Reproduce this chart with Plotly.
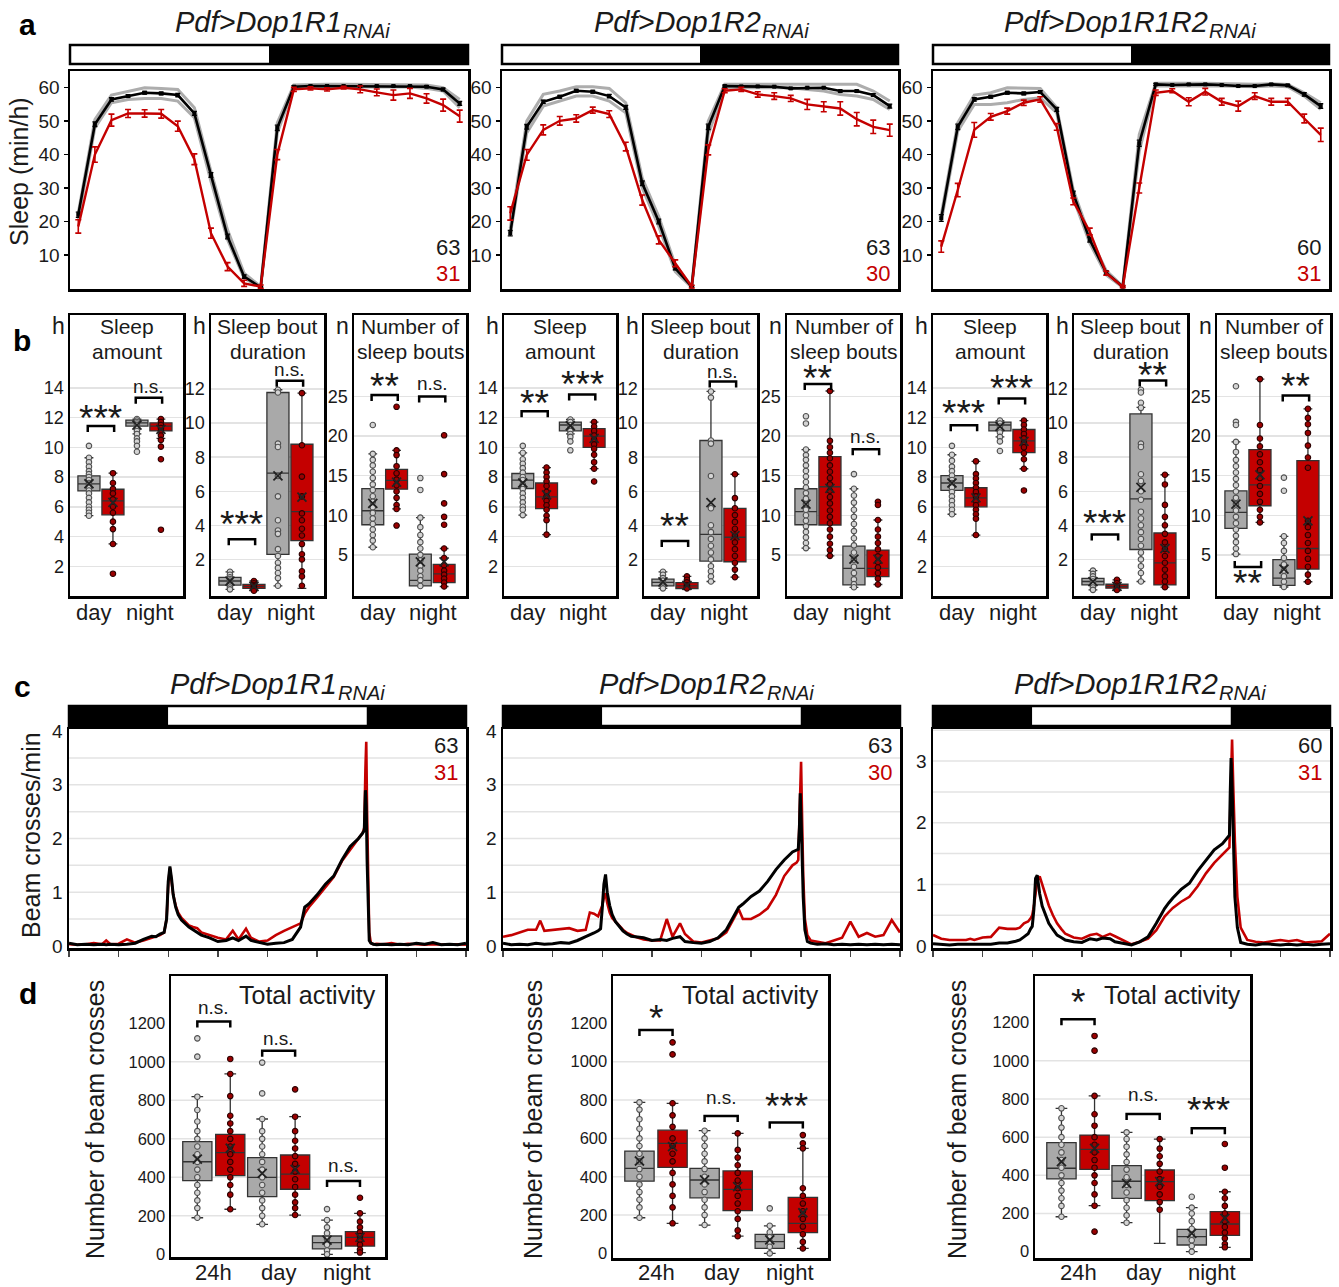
import plotly.graph_objects as go

W, H = 1339, 1287
FONT = "Liberation Sans, Arial, sans-serif"
RED = "#c40000"
GFILL = "#a9a9a9"
GRID = "#e3e3e3"
TXT = "#1a1a1a"

# ---------------- DATA: row a (sleep profiles, min/h per hour bin) ----------------
HOUR_BINS = [0.5, 1.5, 2.5, 3.5, 4.5, 5.5, 6.5, 7.5, 8.5, 9.5, 10.5, 11.5,
             12.5, 13.5, 14.5, 15.5, 16.5, 17.5, 18.5, 19.5, 20.5, 21.5, 22.5, 23.5]
GENOTYPES = ["Dop1R1", "Dop1R2", "Dop1R1R2"]
N_CTRL = ["63", "63", "60"]
N_RNAI = ["31", "30", "31"]

A1_CTRL = [22, 49.1, 56.5, 57.5, 58.5, 58.3, 57.8, 52.3, 33.9, 15.5, 3.5, 0.3,
           48, 60.3, 60.5, 60.5, 60.5, 60.5, 60.5, 60.5, 60.5, 60.3, 59.5, 55.3]
A1_CTRL_SEM = [0.8, 0.7, 0.5, 0.4, 0.4, 0.4, 0.5, 0.6, 0.7, 0.7, 0.5, 0.2,
               0.8, 0.3, 0.2, 0.2, 0.2, 0.2, 0.2, 0.2, 0.2, 0.3, 0.4, 0.6]
A1_HI = [22.5, 50.5, 57.8, 58.8, 60, 59.8, 59.5, 54, 35, 17.5, 4.5, 0.5,
         49.5, 60.8, 61, 61, 61, 61, 61, 61, 61, 60.8, 60, 56.5]
A1_LO = [20.5, 48, 55.5, 56.5, 56.8, 56.8, 56, 51, 32, 14.5, 3, 0.2,
         46.5, 60, 60.2, 60.2, 60.2, 60.2, 60.2, 60.2, 60.2, 59.8, 59, 54]
A1_RNAI = [18.5, 40, 50.3, 52.3, 52.3, 52.2, 48.5, 38.6, 16.5, 6.5, 1.5, 0.5,
           40, 59.5, 59.8, 59.5, 60, 59.5, 58.6, 57.8, 58.3, 56.8, 54.8, 51.5]
A1_RNAI_SEM = [2, 2.3, 1.8, 1.2, 1.1, 1.3, 1.5, 1.6, 1.5, 1.2, 0.9, 0.5,
               1.5, 0.6, 0.5, 0.5, 0.4, 1.0, 1.0, 1.5, 1.5, 1.4, 1.8, 1.8]

A2_CTRL = [16.5, 48.3, 55.8, 57.3, 59.1, 58.8, 57.5, 54.1, 31.4, 20, 6, 0.5,
           48.3, 60.5, 60.4, 60.4, 60.3, 59.8, 60, 60, 59, 59, 57.8, 54.5]
A2_CTRL_SEM = [0.8, 0.7, 0.5, 0.4, 0.4, 0.4, 0.5, 0.6, 0.7, 0.7, 0.5, 0.2,
               0.8, 0.3, 0.2, 0.2, 0.2, 0.2, 0.2, 0.2, 0.3, 0.3, 0.4, 0.6]
A2_HI = [18, 50, 58, 59, 60.3, 60.3, 59.8, 55.5, 33, 21.5, 7, 0.6,
         50, 61, 61, 61, 61, 61, 61, 61, 61, 61, 59, 56]
A2_LO = [16, 46.5, 54.5, 56, 57.5, 57.5, 56, 52.5, 30, 18.5, 5, 0.3,
         46, 60, 60, 60.2, 60.2, 60, 59.5, 59, 58, 57.5, 56.5, 53.5]
A2_RNAI = [22.4, 39.9, 47.4, 50.1, 50.8, 53.3, 52.1, 42.4, 26.4, 14.5, 7.5, 0.5,
           41.4, 59.1, 59.5, 58, 57.5, 56.8, 55, 54.3, 53.8, 50.6, 48.3, 47.3]
A2_RNAI_SEM = [2, 1.6, 1.5, 1.3, 1.1, 0.9, 1.0, 1.3, 1.5, 1.2, 1.0, 0.4,
               1.5, 0.6, 0.6, 0.8, 1.0, 0.9, 1.5, 1.5, 2.0, 2.0, 2.0, 1.8]

A3_CTRL = [21, 48.3, 56.5, 57.3, 58.5, 58.3, 58.7, 53.5, 28.4, 14.5, 4.7, 0.5,
           43.4, 61, 60.8, 61, 61, 60.8, 60.5, 60.5, 61, 60.7, 58, 54.5]
A3_CTRL_SEM = [1.0, 0.8, 0.5, 0.4, 0.4, 0.4, 0.4, 0.6, 0.7, 0.7, 0.5, 0.2,
               0.9, 0.3, 0.2, 0.2, 0.2, 0.2, 0.2, 0.2, 0.2, 0.3, 0.5, 0.7]
A3_HI = [22, 49.5, 57.8, 58.5, 60, 60, 59.8, 54, 29.5, 15.5, 5.3, 0.6,
         46, 61.3, 61.2, 61.3, 61.3, 61.2, 61, 61, 61.2, 61, 58.5, 55.5]
A3_LO = [20, 47, 55, 55, 55.5, 56.5, 57, 52.5, 27, 13.5, 4, 0.3,
         41, 60.5, 60.5, 60.6, 60.6, 60.5, 60.3, 60.3, 60.5, 60.3, 57.5, 53.5]
A3_RNAI = [12.5, 29.4, 47.4, 51.3, 53, 55.5, 56.5, 48.3, 26, 17, 4.5, 0.5,
           30, 58.5, 59.1, 55.8, 58.8, 55.8, 54.5, 57.5, 55.8, 55.8, 50.8, 45.9]
A3_RNAI_SEM = [1.7, 2.0, 2.2, 1.0, 0.9, 0.8, 0.8, 1.0, 1.0, 1.0, 0.6, 0.3,
               1.5, 0.8, 0.6, 1.2, 1.0, 1.0, 1.5, 1.0, 1.0, 1.0, 1.3, 2.0]

LIGHT_A = (0, 12)      # lights on / off (h) in row a
LIGHT_C = (6, 18)      # lights on / off (h) in row c

# ---------------- DATA: row b (box stats: lowerfence, q1, median, q3, upperfence, mean) ----------------
# order in each panel: day ctrl, day RNAi, night ctrl, night RNAi
B_TITLES = [("Sleep", "amount", "h"), ("Sleep bout", "duration", "h"), ("Number of", "sleep bouts", "n")]
B_CATS = ["day", "night"]

B1_STATS = [[5.4, 7.07, 7.54, 8.08, 9.3, 7.55], [3.5, 5.46, 6.4, 7.18, 8.26, 6.3],
            [10.9, 11.43, 11.65, 11.83, 11.9, 11.5], [10.6, 11.1, 11.43, 11.65, 11.9, 11.2]]
B1_PTS = [[10.1, 9.3, 9.0, 8.7, 8.4, 8.2, 8.0, 7.8, 7.6, 7.5, 7.3, 7.1, 6.9, 6.6, 6.3, 6.0, 5.8, 5.6, 5.4],
          [8.26, 7.6, 7.2, 6.9, 6.5, 6.0, 5.6, 5.0, 4.5, 3.5, 1.5],
          [11.9, 11.8, 11.7, 11.6, 11.5, 11.3, 11.1, 10.9, 10.6, 10.4, 10.1, 9.7],
          [11.9, 11.7, 11.5, 11.3, 11.1, 10.8, 10.5, 10.05, 9.2, 4.46]]
B2_STATS = [[0.24, 0.49, 0.73, 0.94, 1.27, 0.72], [0.16, 0.3, 0.41, 0.53, 0.73, 0.42],
            [0.45, 2.3, 7.06, 11.8, 11.96, 6.9], [0.3, 3.1, 4.8, 8.76, 11.76, 5.65]]
B2_PTS = [[1.27, 1.1, 0.95, 0.85, 0.75, 0.65, 0.55, 0.45, 0.35, 0.24],
          [0.73, 0.6, 0.5, 0.42, 0.35, 0.25, 0.16],
          [11.96, 11.8, 8.8, 8.6, 6.9, 5.7, 4.3, 3.7, 3.5, 2.6, 2.2, 1.8, 1.5, 1.2, 0.9, 0.45],
          [11.76, 8.7, 6.86, 5.7, 4.7, 4.3, 3.8, 3.4, 2.9, 2.3, 2.0, 1.3, 1.0, 0.45]]
B3_STATS = [[5.96, 8.8, 10.57, 13.37, 17.76, 11.5], [10.8, 13.3, 14.4, 15.8, 18.2, 14.2],
            [1.07, 1.07, 1.78, 5.1, 9.7, 4.1], [1.0, 1.5, 2.6, 3.8, 5.8, 4.1]]
B3_PTS = [[21.4, 17.76, 17.0, 16.3, 15.5, 14.7, 13.9, 13.2, 12.4, 11.7, 11.0, 10.3, 9.6, 8.9, 8.2, 7.5, 6.8, 5.96],
          [23.7, 18.2, 17.6, 16.2, 15.3, 14.5, 13.8, 13.0, 12.2, 11.3, 10.8, 8.7],
          [14.7, 13.2, 9.7, 8.5, 7.5, 6.6, 5.8, 5.0, 4.3, 3.6, 3.0, 2.3, 1.8, 1.07],
          [20.1, 15.2, 11.5, 9.8, 8.8, 5.8, 4.6, 3.7, 3.0, 2.5, 2.0, 1.5, 1.0]]
B4_STATS = [[5.44, 7.23, 7.79, 8.24, 9.63, 7.6], [4.13, 5.88, 6.67, 7.6, 8.64, 6.8],
            [10.9, 11.1, 11.5, 11.7, 11.87, 11.45], [8.57, 10.0, 10.75, 11.26, 11.7, 10.6]]
B4_PTS = [[10.1, 9.63, 9.2, 8.9, 8.6, 8.3, 8.0, 7.8, 7.5, 7.2, 6.9, 6.6, 6.3, 6.0, 5.8, 5.44],
          [8.64, 8.3, 8.0, 7.7, 7.4, 7.0, 6.7, 6.4, 6.1, 5.8, 5.4, 5.1, 4.13],
          [11.87, 11.7, 11.5, 11.3, 11.1, 10.9, 10.7, 10.4, 9.8],
          [11.7, 11.4, 11.1, 10.8, 10.5, 10.2, 9.9, 9.5, 9.0, 8.57, 7.7]]
B5_STATS = [[0.3, 0.45, 0.65, 0.84, 1.27, 0.68], [0.25, 0.29, 0.45, 0.63, 1.0, 0.47],
            [0.7, 1.9, 3.47, 8.98, 11.86, 5.33], [0.96, 1.86, 3.3, 5.0, 7.0, 3.4]]
B5_PTS = [[1.27, 1.1, 0.9, 0.75, 0.6, 0.5, 0.4, 0.3],
          [1.0, 0.8, 0.65, 0.5, 0.4, 0.3],
          [11.86, 11.5, 8.98, 8.8, 6.9, 5.0, 4.0, 3.6, 3.2, 2.8, 2.4, 2.0, 1.6, 1.3, 1.0, 0.7],
          [7.0, 5.6, 5.0, 4.6, 4.2, 3.8, 3.4, 3.0, 2.6, 2.2, 1.8, 1.4, 0.96]]
B6_STATS = [[5.85, 8.8, 10.46, 13.35, 18.3, 11.4], [4.87, 8.77, 13.6, 17.4, 25.7, 13.4],
            [0.9, 1.2, 3.3, 6.1, 13.35, 4.45], [1.25, 2.25, 3.3, 5.6, 9.4, 4.45]]
B6_PTS = [[22.5, 21.6, 18.3, 17.6, 17.0, 16.3, 15.6, 14.9, 14.2, 13.5, 12.8, 12.1, 11.4, 10.7, 10.0, 9.3, 8.6, 7.9, 7.2, 6.5, 5.85],
          [25.7, 19.4, 18.6, 17.9, 17.2, 16.3, 15.5, 14.7, 13.9, 13.1, 12.3, 11.5, 10.6, 9.8, 9.0, 8.2, 7.3, 6.4, 5.6, 4.87],
          [15.2, 13.35, 12.5, 11.6, 10.7, 9.8, 8.9, 8.0, 7.1, 6.2, 5.3, 4.4, 3.5, 2.7, 1.9, 1.3, 0.9],
          [11.7, 11.3, 9.4, 8.2, 7.3, 6.5, 5.7, 4.8, 4.1, 3.4, 2.7, 2.0, 1.25]]
B7_STATS = [[5.5, 7.1, 7.6, 8.1, 9.5, 7.6], [4.1, 6.0, 6.6, 7.28, 9.06, 6.6],
            [10.7, 11.1, 11.5, 11.7, 11.8, 11.4], [8.56, 9.64, 10.43, 11.2, 11.8, 10.4]]
B7_PTS = [[10.1, 9.5, 9.1, 8.7, 8.4, 8.1, 7.8, 7.6, 7.3, 7.0, 6.7, 6.4, 6.1, 5.8, 5.5],
          [9.06, 8.2, 7.9, 7.6, 7.3, 7.0, 6.7, 6.4, 6.1, 5.8, 5.5, 5.2, 4.1],
          [11.8, 11.6, 11.4, 11.2, 11.0, 10.7, 10.4, 9.75],
          [11.8, 11.5, 11.2, 10.9, 10.6, 10.3, 10.0, 9.6, 9.2, 8.56, 7.1]]
B8_STATS = [[0.21, 0.5, 0.7, 0.89, 1.34, 0.7], [0.2, 0.31, 0.41, 0.54, 0.8, 0.42],
            [0.7, 2.58, 5.55, 10.54, 10.93, 6.23], [0.37, 0.5, 1.8, 3.55, 6.97, 2.64]]
B8_PTS = [[1.34, 1.15, 1.0, 0.85, 0.7, 0.6, 0.5, 0.35, 0.21],
          [0.8, 0.6, 0.45, 0.35, 0.2],
          [11.96, 11.8, 11.2, 10.9, 8.8, 8.6, 7.0, 6.6, 6.0, 5.5, 4.8, 4.4, 4.0, 3.6, 3.2, 2.8, 2.4, 2.0, 1.6, 1.2, 0.7],
          [6.97, 6.4, 5.2, 4.5, 4.0, 3.5, 3.0, 2.6, 2.2, 1.8, 1.4, 1.0, 0.7, 0.37]]
B9_STATS = [[5.1, 8.35, 10.36, 13.07, 19.27, 11.4], [9.1, 11.2, 13.83, 18.3, 27.2, 15.1],
            [0.94, 1.15, 2.07, 4.4, 7.34, 3.2], [1.6, 3.2, 5.8, 16.9, 23.45, 9.3]]
B9_PTS = [[26.3, 21.8, 21.4, 19.27, 18.0, 17.0, 16.2, 15.4, 14.6, 13.8, 13.0, 12.2, 11.4, 10.6, 9.8, 9.0, 8.2, 7.4, 6.6, 5.8, 5.1],
          [27.2, 21.4, 19.7, 18.7, 17.7, 16.7, 15.7, 14.7, 13.7, 12.7, 11.7, 10.7, 9.8, 9.1],
          [14.75, 13.1, 7.34, 6.5, 5.5, 4.6, 3.8, 3.0, 2.3, 1.6, 0.94],
          [23.45, 22.3, 21.5, 20.4, 18.8, 17.3, 16.0, 9.3, 8.5, 7.5, 6.5, 5.5, 4.5, 3.5, 2.5, 1.6]]

# significance per panel: (label, bracket height, label height) for day, night
B1_SIG = [("***", 11.43, 12.17), ("n.s.", 13.33, 14.0)]
B2_SIG = [("***", 3.18, 4.22), ("n.s.", 12.49, 13.1)]
B3_SIG = [("**", 25.2, 26.67), ("n.s.", 25.0, 26.46)]
B4_SIG = [("**", 12.43, 13.17), ("***", 13.55, 14.4)]
B5_SIG = [("**", 3.08, 4.12), ("n.s.", 12.45, 12.95)]
B6_SIG = [("**", 26.57, 27.6), ("n.s.", 18.35, 19.83)]
B7_SIG = [("***", 11.48, 12.5), ("***", 13.28, 14.18)]
B8_SIG = [("***", 3.46, 4.29), ("**", 12.5, 13.0)]
B9_SIG = [("**", 3.45, 1.78), ("**", 25.13, 26.67)]   # day bracket is drawn below the boxes

# ---------------- DATA: row c (beam crosses / min) ----------------
T_C = [0, 0.5, 1, 1.5, 2, 2.25, 2.5, 3, 3.5, 4, 4.5, 5, 5.25, 5.5, 5.75, 5.9, 6.0, 6.1, 6.2, 6.3,
       6.45, 6.6, 6.8, 7.0, 7.25, 7.5, 7.75, 8.0, 8.5, 9.0, 9.5, 9.9, 10.25, 10.7, 11.0, 11.5, 12.0, 12.5, 13.0, 13.5,
       14.0, 14.25, 14.5, 15.0, 15.5, 16.0, 16.5, 17.0, 17.5, 17.75, 17.85, 17.92, 17.97, 18.02, 18.08, 18.15, 18.25, 18.4, 18.6, 19.0,
       19.5, 20.0, 20.5, 21.0, 21.5, 22.0, 22.5, 23.0, 23.5, 24.0]
C1_CTRL = [0.05, 0.02, 0.03, 0.02, 0.03, 0.02, 0.03, 0.02, 0.03, 0.05, 0.12, 0.18, 0.17, 0.22, 0.25, 0.5, 1.2, 1.48, 1.25, 0.95,
           0.72, 0.58, 0.48, 0.42, 0.35, 0.3, 0.25, 0.2, 0.15, 0.08, 0.1, 0.15, 0.1, 0.18, 0.1, 0.06, 0.03, 0.05, 0.06, 0.12,
           0.35, 0.72, 0.78, 0.95, 1.15, 1.3, 1.6, 1.85, 2.0, 2.1, 2.15, 2.9, 2.6, 1.6, 0.6, 0.1, 0.05, 0.03, 0.02, 0.03,
           0.02, 0.03, 0.02, 0.05, 0.03, 0.06, 0.02, 0.03, 0.02, 0.05]
C1_RNAI = [0.03, 0.02, 0.03, 0.05, 0.03, 0.1, 0.03, 0.04, 0.12, 0.06, 0.1, 0.15, 0.18, 0.2, 0.25, 0.5, 1.15, 1.45, 1.2, 0.95,
           0.75, 0.62, 0.52, 0.45, 0.38, 0.35, 0.33, 0.25, 0.2, 0.15, 0.12, 0.28, 0.12, 0.32, 0.15, 0.08, 0.1, 0.2, 0.28, 0.35,
           0.42, 0.6, 0.72, 0.9, 1.1, 1.28, 1.58, 1.8, 2.0, 2.1, 2.2, 3.3, 3.8, 2.5, 1.0, 0.25, 0.05, 0.03, 0.04, 0.03,
           0.05, 0.02, 0.04, 0.03, 0.02, 0.03, 0.02, 0.02, 0.03, 0.02]
C2_CTRL = [0.05, 0.02, 0.03, 0.02, 0.05, 0.04, 0.03, 0.04, 0.06, 0.05, 0.1, 0.17, 0.2, 0.24, 0.28, 0.32, 0.7, 1.15, 1.33, 1.0,
           0.75, 0.58, 0.45, 0.38, 0.28, 0.22, 0.18, 0.17, 0.15, 0.1, 0.12, 0.1, 0.14, 0.17, 0.08, 0.06, 0.05, 0.08, 0.15, 0.3,
           0.6, 0.72, 0.78, 0.92, 1.02, 1.2, 1.42, 1.6, 1.75, 1.78, 1.8, 2.2, 2.84, 2.4, 1.5, 0.9, 0.3, 0.08, 0.05, 0.03,
           0.04, 0.02, 0.03, 0.02, 0.03, 0.02, 0.03, 0.02, 0.03, 0.02]
C2_RNAI = [0.17, 0.2, 0.25, 0.3, 0.3, 0.47, 0.28, 0.3, 0.32, 0.33, 0.28, 0.3, 0.62, 0.6, 0.55, 0.68, 0.75, 0.9, 0.98, 0.8,
           0.62, 0.52, 0.45, 0.38, 0.3, 0.24, 0.2, 0.17, 0.12, 0.1, 0.1, 0.5, 0.17, 0.42, 0.22, 0.08, 0.06, 0.1, 0.14, 0.25,
           0.55, 0.68, 0.5, 0.5, 0.58, 0.7, 0.95, 1.3, 1.5, 1.55, 1.6, 2.6, 3.2, 3.43, 2.4, 1.3, 0.5, 0.2, 0.1, 0.08,
           0.05, 0.1, 0.15, 0.45, 0.17, 0.24, 0.17, 0.2, 0.48, 0.25]
C3_CTRL = [0.04, 0.03, 0.02, 0.03, 0.03, 0.02, 0.03, 0.02, 0.03, 0.05, 0.05, 0.08, 0.1, 0.15, 0.2, 0.28, 0.32, 0.6, 1.1, 1.15,
           0.85, 0.65, 0.5, 0.37, 0.27, 0.18, 0.14, 0.1, 0.07, 0.06, 0.12, 0.1, 0.13, 0.12, 0.07, 0.04, 0.02, 0.07, 0.15, 0.37,
           0.61, 0.7, 0.78, 0.92, 1.02, 1.22, 1.4, 1.56, 1.66, 1.75, 1.78, 1.8, 2.5, 3.05, 2.6, 1.6, 0.8, 0.3, 0.06, 0.03,
           0.02, 0.04, 0.03, 0.02, 0.03, 0.02, 0.03, 0.02, 0.03, 0.04]
C3_RNAI = [0.18, 0.12, 0.1, 0.1, 0.1, 0.12, 0.1, 0.14, 0.15, 0.3, 0.28, 0.28, 0.3, 0.37, 0.4, 0.45, 0.5, 0.65, 0.9, 1.05,
           1.13, 1.0, 0.86, 0.66, 0.5, 0.37, 0.28, 0.2, 0.14, 0.12, 0.18, 0.2, 0.15, 0.2, 0.16, 0.1, 0.03, 0.07, 0.12, 0.26,
           0.48, 0.55, 0.62, 0.72, 0.8, 0.97, 1.18, 1.35, 1.48, 1.55, 1.58, 1.6, 2.2, 2.9, 3.35, 2.6, 1.7, 0.8, 0.3, 0.1,
           0.07, 0.06, 0.08, 0.1, 0.08, 0.1, 0.06, 0.07, 0.08, 0.2]

# ---------------- DATA: row d (total activity box stats) ----------------
D_CATS = ["24h", "day", "night"]
# order: 24h ctrl, 24h RNAi, day ctrl, day RNAi, night ctrl, night RNAi
D1_STATS = [[190, 383, 481, 585, 819, 495], [234, 409, 528, 623, 937, 551], [156, 300, 400, 502, 703, 421],
            [204, 338, 417, 516, 715, 441], [0, 28, 61, 95, 178, 74], [9, 43, 88, 118, 213, 88]]
D1_PTS = [[1122, 1027, 819, 750, 690, 640, 600, 560, 520, 480, 440, 400, 360, 320, 280, 240, 190],
          [1015, 937, 822, 720, 680, 640, 600, 560, 520, 480, 440, 400, 360, 310, 234],
          [996, 836, 703, 640, 600, 560, 520, 480, 440, 400, 360, 320, 280, 240, 200, 156],
          [857, 715, 640, 590, 550, 510, 470, 430, 390, 350, 310, 270, 240, 204],
          [235, 178, 140, 110, 80, 50, 20, 0],
          [294, 213, 170, 140, 115, 95, 75, 50, 25, 9]]
D2_STATS = [[186, 377, 443, 534, 788, 482], [157, 449, 574, 643, 783, 557], [148, 290, 383, 443, 640, 383],
            [90, 223, 334, 430, 626, 348], [0, 26, 61, 99, 144, 70], [26, 108, 157, 292, 548, 212]]
D2_PTS = [[788, 750, 700, 650, 600, 560, 520, 480, 440, 400, 360, 320, 280, 240, 186],
          [1101, 1038, 783, 720, 660, 600, 560, 520, 480, 420, 360, 300, 240, 157],
          [640, 600, 560, 520, 480, 440, 400, 360, 320, 280, 240, 200, 148],
          [626, 540, 500, 460, 420, 380, 340, 300, 260, 220, 180, 120, 90],
          [235, 144, 110, 85, 60, 35, 0],
          [617, 574, 548, 340, 300, 260, 220, 180, 140, 100, 60, 26]]
D3_STATS = [[183, 381, 437, 571, 751, 472], [241, 431, 536, 611, 816, 541], [152, 279, 369, 451, 625, 358],
            [44, 267, 367, 428, 590, 367], [0, 35, 79, 117, 231, 96], [23, 86, 145, 210, 314, 175]]
D3_PTS = [[751, 700, 650, 600, 560, 520, 480, 440, 400, 360, 320, 280, 240, 183],
          [1130, 1053, 816, 720, 660, 600, 560, 520, 480, 440, 400, 360, 300, 241, 105],
          [625, 590, 550, 510, 470, 430, 390, 350, 310, 270, 230, 190, 152],
          [590, 540, 500, 460, 420, 380, 340, 300, 260, 220],
          [288, 231, 200, 160, 120, 90, 60, 30, 0],
          [564, 440, 314, 280, 240, 200, 160, 130, 100, 70, 40, 23]]
D1_SIG = [("n.s.", 1209, 1278), ("n.s.", 1058, 1117), ("n.s.", 381, 455)]
D2_SIG = [("*", 1165, 1243), ("n.s.", 717, 809), ("***", 683, 783)]
D3_SIG = [("*", 1217, 1322), ("n.s.", 721, 816), ("***", 646, 755)]

# ---------------- LAYOUT (pixel boxes: left, top, right, bottom) ----------------
A_BOXES = [(70, 71, 468, 289), (502, 71, 898, 289), (933, 71, 1329, 289)]
A_TITLE_X = [281, 700, 1128]
B_BOXES = [(70, 315, 183, 596), (211, 315, 324, 596), (354, 315, 466, 596),
           (504, 315, 616, 596), (644, 315, 757, 596), (787, 315, 900, 596),
           (933, 315, 1046, 596), (1074, 315, 1187, 596), (1217, 315, 1330, 596)]
C_BOXES = [(69, 729, 466, 948), (503, 729, 900, 948), (933, 729, 1330, 948)]
C_TITLE_X = [276, 705, 1138]
D_BOXES = [(171, 976, 385, 1257), (613, 976, 828, 1258), (1035, 976, 1250, 1258)]
D_YLABEL_X = [95, 533, 957]

# Arial / Liberation Sans advance widths (em) for title layout
ADV = {"P": .667, "d": .556, "f": .278, ">": .584, "D": .722, "o": .556, "p": .556,
       "1": .556, "2": .556, "R": .722, "N": .722, "A": .667, "i": .222}

layout = dict(width=W, height=H, margin=dict(l=0, r=0, t=0, b=0, pad=0, autoexpand=False),
              paper_bgcolor="white", plot_bgcolor="white", showlegend=False,
              font=dict(family=FONT, color=TXT))
traces, shapes, annots = [], [], []


def names(i):
    s = "" if i == 1 else str(i)
    return "xaxis" + s, "yaxis" + s, "x" + s, "y" + s


def add_axes(i, box, xr, yr, xo=None, yo=None):
    l, t, r, b = box
    xn, yn, xref, yref = names(i)
    base = dict(showline=True, mirror=True, linecolor="black", linewidth=2.5, automargin=False,
                showgrid=False, zeroline=False, fixedrange=True, ticks="")
    xa = dict(base, domain=[l / W, r / W], range=xr, anchor=yref, showticklabels=False)
    ya = dict(base, domain=[1 - b / H, 1 - t / H], range=yr, anchor=xref,
              tickfont=dict(size=18, color=TXT))
    xa.update(xo or {})
    ya.update(yo or {})
    layout[xn] = xa
    layout[yn] = ya
    return xref, yref


def text(x, y, s, size, color=TXT, xanchor="center", yanchor="middle", angle=0, xref="paper", yref="paper", yshift=0):
    if xref == "paper":
        x = x / W
    if yref == "paper":
        y = 1 - y / H
    annots.append(dict(x=x, y=y, xref=xref, yref=yref, text=s, showarrow=False,
                       font=dict(size=size, color=color, family=FONT), xanchor=xanchor,
                       yanchor=yanchor, textangle=angle, yshift=yshift, borderpad=0))


def ld_bar(xref, light, top, bot, xmax=24):
    y0, y1 = 1 - bot / H, 1 - top / H
    segs = [(0, light[0], "black"), (light[0], light[1], "white"), (light[1], xmax, "black")]
    for a, b, c in segs:
        if b > a:
            shapes.append(dict(type="rect", xref=xref, yref="paper", x0=a, x1=b, y0=y0, y1=y1,
                               fillcolor=c, line=dict(width=0)))
    shapes.append(dict(type="rect", xref=xref + " domain", yref="paper", x0=0, x1=1, y0=y0, y1=y1,
                       fillcolor="rgba(0,0,0,0)", line=dict(color="black", width=2.5)))


def hgrid(xref, yref, vals):
    for gv in vals:
        shapes.append(dict(type="line", xref=xref + " domain", yref=yref, x0=0, x1=1, y0=gv, y1=gv,
                           line=dict(color=GRID, width=1.5), layer="below"))


def bracket(xref, yref, xa, xb, ybar, leg):
    shapes.append(dict(type="path", xref=xref, yref=yref,
                       path=f"M {xa},{ybar - leg} L {xa},{ybar} L {xb},{ybar} L {xb},{ybar - leg}",
                       line=dict(color="black", width=2.5)))


def sig_label(xref, yref, x, y, s):
    if "*" in s:
        text(x, y, s, 37, xref=xref, yref=yref, yshift=-3)
    else:
        text(x, y, s, 19, xref=xref, yref=yref, yshift=1)


def add_box(xref, yref, pos, st, pts, ctrl, width):
    lf, q1, med, q3, uf, mean = st
    traces.append(go.Box(x=[pos], q1=[q1], median=[med], q3=[q3], lowerfence=[lf], upperfence=[uf],
                         orientation="v", xaxis=xref, yaxis=yref, width=width, whiskerwidth=0.4,
                         fillcolor=GFILL if ctrl else RED, line=dict(color="#333333", width=1.3),
                         boxpoints=False, hoverinfo="skip"))
    traces.append(go.Scatter(x=[pos] * len(pts), y=pts, mode="markers", xaxis=xref, yaxis=yref,
                             marker=dict(size=5.5, color="#d4d4d4" if ctrl else "#9a0000",
                                         line=dict(color="#505050" if ctrl else "#2a0000", width=1.1)),
                             hoverinfo="skip"))
    traces.append(go.Scatter(x=[pos], y=[mean], mode="markers", xaxis=xref, yaxis=yref,
                             marker=dict(symbol="x-thin", size=9, line=dict(color="#222222", width=1.8)),
                             hoverinfo="skip"))


def title(cx, y, g):
    main = "Pdf>" + g
    mw = sum(ADV[c] for c in main) * 29
    sw = sum(ADV[c] for c in "RNAi") * 20
    left = cx - (mw + sw) / 2
    text(left, y, f"<i>Pdf&gt;{g}</i>", 29, xanchor="left")
    text(left + mw + 1, y + 9, "<i>RNAi</i>", 20, xanchor="left")


# ---------------- Row a ----------------
A_SETS = [(A1_CTRL, A1_CTRL_SEM, A1_HI, A1_LO, A1_RNAI, A1_RNAI_SEM),
          (A2_CTRL, A2_CTRL_SEM, A2_HI, A2_LO, A2_RNAI, A2_RNAI_SEM),
          (A3_CTRL, A3_CTRL_SEM, A3_HI, A3_LO, A3_RNAI, A3_RNAI_SEM)]
for k in range(3):
    ctrl, csem, hi, lo, rn, rsem = A_SETS[k]
    xref, yref = add_axes(1 + k, A_BOXES[k], [0, 24], [-0.2, 65],
                          yo=dict(tickvals=[10, 20, 30, 40, 50, 60], ticks="outside", ticklen=4,
                                  tickwidth=1.5, tickcolor="black", tickfont=dict(size=19, color=TXT)))
    for g in (hi, lo):
        traces.append(go.Scatter(x=HOUR_BINS, y=g, mode="lines", xaxis=xref, yaxis=yref,
                                 line=dict(color="#adadad", width=3), hoverinfo="skip"))
    traces.append(go.Scatter(x=HOUR_BINS, y=ctrl, mode="lines+markers", xaxis=xref, yaxis=yref,
                             line=dict(color="black", width=2.6),
                             marker=dict(symbol="square", size=4, color="black"),
                             error_y=dict(type="data", array=csem, color="black", thickness=1.3, width=2.5),
                             hoverinfo="skip"))
    traces.append(go.Scatter(x=HOUR_BINS, y=rn, mode="lines", xaxis=xref, yaxis=yref,
                             line=dict(color=RED, width=2.4),
                             error_y=dict(type="data", array=rsem, color=RED, thickness=1.6, width=3),
                             hoverinfo="skip"))
    l, t, r, b = A_BOXES[k]
    ld_bar(xref, LIGHT_A, 45, 64)
    title(A_TITLE_X[k], 22, GENOTYPES[k])
    text(r - 7, 247, N_CTRL[k], 22, xanchor="right")
    text(r - 7, 273, N_RNAI[k], 22, color=RED, xanchor="right")

text(19, 172, "Sleep (min/h)", 25, angle=-90)

# ---------------- Row b ----------------
B_SETS = [(B1_STATS, B1_PTS, B1_SIG), (B2_STATS, B2_PTS, B2_SIG), (B3_STATS, B3_PTS, B3_SIG),
          (B4_STATS, B4_PTS, B4_SIG), (B5_STATS, B5_PTS, B5_SIG), (B6_STATS, B6_PTS, B6_SIG),
          (B7_STATS, B7_PTS, B7_SIG), (B8_STATS, B8_PTS, B8_SIG), (B9_STATS, B9_PTS, B9_SIG)]
B_YR = [[0.0, 18.9], [-0.15, 16.35], [-0.2, 35.3]]
B_TICKS = [[2, 4, 6, 8, 10, 12, 14], [2, 4, 6, 8, 10, 12], [5, 10, 15, 20, 25]]
B_POS = [0, 1, 2, 3]
B_LABEL_X = [0.2, 2.55]
for j in range(9):
    stats, pts, sig = B_SETS[j]
    kind = j % 3
    box = B_BOXES[j]
    yr = B_YR[kind]
    xref, yref = add_axes(4 + j, box, [-0.79, 3.92], yr,
                          yo=dict(tickvals=B_TICKS[kind], showgrid=True, gridcolor=GRID, gridwidth=1.5))
    for i in range(4):
        add_box(xref, yref, B_POS[i], stats[i], pts[i], i % 2 == 0, 0.92)
    leg = 6.0 * (yr[1] - yr[0]) / (box[3] - box[1])
    for s_i, (lab, ybar, ytxt) in enumerate(sig):
        xa, xb = B_POS[2 * s_i] - 0.05, B_POS[2 * s_i + 1] + 0.05
        if ytxt < ybar:   # bracket below the boxes, opening upward
            bracket(xref, yref, xa, xb, ybar, -leg)
        else:
            bracket(xref, yref, xa, xb, ybar, leg)
        sig_label(xref, yref, (xa + xb) / 2, ytxt, lab)
    l, t, r, b = box
    t1, t2, unit = B_TITLES[kind]
    text((l + r) / 2, 327, t1, 21)
    text((l + r) / 2, 351, t2, 21)
    text(l - 12, 326, unit, 23)
    for cx, cl in zip(B_LABEL_X, B_CATS):
        text(cx, 612, cl, 22, xref=xref)

# ---------------- Row c ----------------
C_SETS = [(C1_CTRL, C1_RNAI), (C2_CTRL, C2_RNAI), (C3_CTRL, C3_RNAI)]
C_YR = [[-0.04, 4.04], [-0.04, 4.04], [-0.03, 3.52]]
C_LABELS = [[0, 1, 2, 3, 4], [0, 1, 2, 3, 4], [0, 1, 2, 3]]
C_GRID = [[0.5, 1, 1.5, 2, 2.5, 3, 3.5], [0.5, 1, 1.5, 2, 2.5, 3, 3.5], [0.5, 1, 1.5, 2, 2.5, 3, 3.5]]
for k in range(3):
    yr = C_YR[k]
    xref, yref = add_axes(13 + k, C_BOXES[k], [0, 24], yr,
                          xo=dict(tickvals=[0, 3, 6, 9, 12, 15, 18, 21, 24], ticks="outside", ticklen=6,
                                  tickwidth=1.5, tickcolor="#444444"),
                          yo=dict(tickvals=C_LABELS[k], tickfont=dict(size=19, color=TXT)))
    hgrid(xref, yref, C_GRID[k])
    ctrl, rn = C_SETS[k]
    traces.append(go.Scatter(x=T_C, y=rn, mode="lines", xaxis=xref, yaxis=yref,
                             line=dict(color=RED, width=2.6), hoverinfo="skip"))
    traces.append(go.Scatter(x=T_C, y=ctrl, mode="lines", xaxis=xref, yaxis=yref,
                             line=dict(color="black", width=3), hoverinfo="skip"))
    l, t, r, b = C_BOXES[k]
    ld_bar(xref, LIGHT_C, 706, 726)
    title(C_TITLE_X[k], 684, GENOTYPES[k])
    text(r - 7, 746, N_CTRL[k], 22, xanchor="right")
    text(r - 7, 772, N_RNAI[k], 22, color=RED, xanchor="right")

text(31, 835, "Beam crosses/min", 25, angle=-90)

# ---------------- Row d ----------------
D_SETS = [(D1_STATS, D1_PTS, D1_SIG), (D2_STATS, D2_PTS, D2_SIG), (D3_STATS, D3_PTS, D3_SIG)]
D_YR = [[-14, 1446], [-24, 1447], [-33, 1444]]
D_POS = [-0.254, 0.254, 0.746, 1.254, 1.746, 2.254]
D_LABEL_X = [0, 1, 2.05]
for k in range(3):
    stats, pts, sig = D_SETS[k]
    box = D_BOXES[k]
    yr = D_YR[k]
    xref, yref = add_axes(16 + k, box, [-0.66, 2.64], yr,
                          yo=dict(tickvals=[0, 200, 400, 600, 800, 1000, 1200], tickfont=dict(size=16.5, color=TXT)))
    hgrid(xref, yref, [200, 400, 600, 800, 1000])
    for i in range(6):
        add_box(xref, yref, D_POS[i], stats[i], pts[i], i % 2 == 0, 0.45)
    leg = 6.0 * (yr[1] - yr[0]) / (box[3] - box[1])
    for s_i, (lab, ybar, ytxt) in enumerate(sig):
        xa, xb = D_POS[2 * s_i], D_POS[2 * s_i + 1]
        bracket(xref, yref, xa, xb, ybar, leg)
        sig_label(xref, yref, (xa + xb) / 2, ytxt, lab)
    l, t, r, b = box
    text(r - 8, 995, "Total activity", 25, xanchor="right")
    text(D_YLABEL_X[k], 1120, "Number of beam crosses", 25, angle=-90)
    for cx, cl in zip(D_LABEL_X, D_CATS):
        text(cx, 1272, cl, 22, xref=xref)

# ---------------- panel letters ----------------
for lt, x, y in [("a", 27, 25), ("b", 22, 341), ("c", 22, 686), ("d", 28, 993)]:
    text(x, y, f"<b>{lt}</b>", 30, color="black")

layout["shapes"] = shapes
layout["annotations"] = annots
fig = go.Figure(data=traces, layout=layout)
fig.write_html("out.html", config={"displayModeBar": False, "staticPlot": True},
               post_script="document.body.style.margin='0px';")
